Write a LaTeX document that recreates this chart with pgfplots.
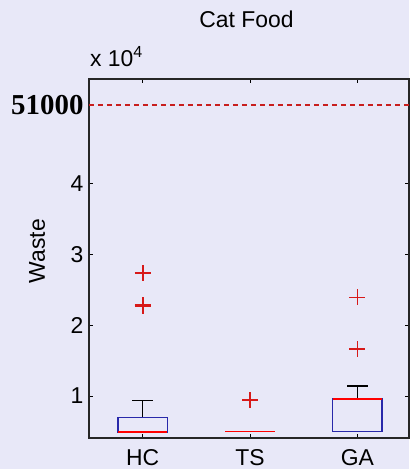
\documentclass[border=0pt]{standalone}
\usepackage{pgfplots}
\pgfplotsset{compat=1.18}
\usepgfplotslibrary{statistics}
\usepackage{fontspec}
\setmainfont{Liberation Sans}
\newfontfamily\serifb{Liberation Serif}
\definecolor{bg}{RGB}{232,232,248}
\definecolor{boxblue}{RGB}{40,40,170}
\definecolor{dred}{RGB}{215,25,25}
\definecolor{lred}{RGB}{200,30,30}
\begin{document}
\begin{tikzpicture}
\fill[bg] (0,0) rectangle (409bp,469bp);
\begin{axis}[
  at={(89bp,31bp)}, anchor=south west,
  scale only axis, width=320bp, height=359bp,
  xmin=0.5, xmax=3.48, ymin=0.41, ymax=5.47,
  xtick={1,2,3}, xticklabels={HC,TS,GA},
  ytick={1,2,3,4},
  extra y ticks={5.1}, extra y tick labels={{\serifb\bfseries 51000}},
  extra y tick style={yticklabel style={font=\fontsize{29}{31}\selectfont}},
  tick align=inside, major tick length=4bp,
  axis line style={line width=1.4bp, black!85},
  tick style={line width=1bp, black},
  ticklabel style={font=\fontsize{23}{26}\selectfont},
  xticklabel style={yshift=-8bp},
  yticklabel style={xshift=-2bp},
  /pgf/number format/assume math mode=true,
  axis background/.style={fill=bg},
  boxplot/draw direction=y,
  boxplot/every box/.style={draw=boxblue, line width=1.4bp},
  boxplot/every median/.style={draw=red, line width=1.8bp},
  boxplot/every whisker/.style={draw=black, line width=1.4bp},
]
\addplot[draw=lred, dash pattern=on 5bp off 4bp, line width=1.5bp] coordinates {(0.5,5.1) (3.48,5.1)};
\addplot[boxplot prepared={draw position=1, lower whisker=0.49, lower quartile=0.49, median=0.49, upper quartile=0.70, upper whisker=0.94, box extend=0.46, whisker extend=0.19}] coordinates {};
\addplot[boxplot prepared={draw position=2, lower whisker=0.50, lower quartile=0.50, median=0.50, upper quartile=0.50, upper whisker=0.50, box extend=0.46, whisker extend=0}] coordinates {};
\addplot[boxplot prepared={draw position=3, lower whisker=0.50, lower quartile=0.50, median=0.96, upper quartile=0.96, upper whisker=1.14, box extend=0.46, whisker extend=0.19}] coordinates {};
\addplot[only marks, mark=+, mark size=8bp, mark options={draw=dred, line width=1.8bp}]
  coordinates {(1,2.73) (1,2.28) (1,2.27) (2,0.94) (3,2.39) (3,1.66)};
\end{axis}
\node[font=\fontsize{23}{26}\selectfont] at (246.5bp,450bp) {Cat Food};
\node[anchor=base west, font=\fontsize{23}{26}\selectfont, inner sep=0pt] at (90bp,402bp) {x 10\textsuperscript{4}};
\node[rotate=90, font=\fontsize{23}{26}\selectfont] at (37bp,218bp) {Waste};
\end{tikzpicture}
\end{document}
